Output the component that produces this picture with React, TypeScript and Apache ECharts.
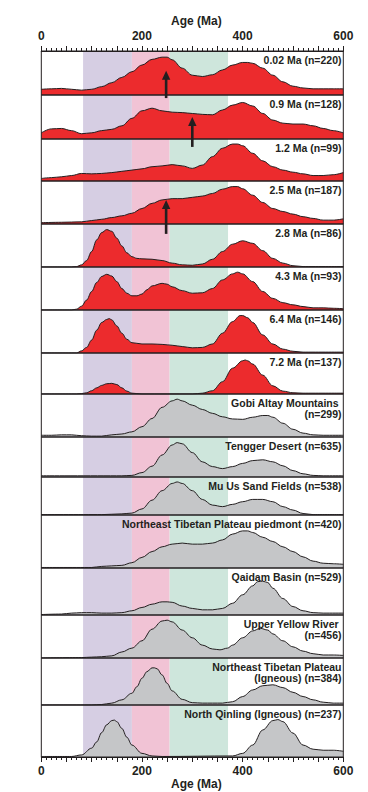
import React, { useEffect, useRef } from "react";
import * as echarts from "echarts";

// ---- data (age in Ma, relative probability in % of panel height) ----
const panelLabels = [
  "0.02 Ma (n=220)",
  "0.9 Ma (n=128)",
  "1.2 Ma (n=99)",
  "2.5 Ma (n=187)",
  "2.8 Ma (n=86)",
  "4.3 Ma (n=93)",
  "6.4 Ma (n=146)",
  "7.2 Ma (n=137)",
  "Gobi Altay Mountains \n(n=299)",
  "Tengger Desert (n=635)",
  "Mu Us Sand Fields (n=538)",
  "Northeast Tibetan Plateau piedmont (n=420)",
  "Qaidam Basin (n=529)",
  "Upper Yellow River \n(n=456)",
  "Northeast Tibetan Plateau\n(Igneous) (n=384)",
  "North Qinling (Igneous) (n=237)",
];
const panelKinds = ["red", "red", "red", "red", "red", "red", "red", "red", "gray", "gray", "gray", "gray", "gray", "gray", "gray", "gray"];

const d002 = [[0,13],[20,14],[40,15],[60,13],[80,11],[100,13],[120,19],[140,28],[160,40],[180,53],[200,68],[220,81],[240,86],[250,86],[260,80],[280,61],[300,45],[320,42],[340,46],[360,57],[380,68],[400,74],[410,74],[420,72],[440,61],[460,45],[480,30],[500,20],[520,16],[540,14],[560,14],[580,14],[600,14]];
const d09 = [[0,14],[20,23],[40,24],[60,19],[80,12],[100,14],[120,19],[140,22],[160,30],[180,47],[200,64],[220,70],[240,64],[260,61],[280,60],[300,58],[320,56],[340,55],[360,66],[380,77],[400,83],[420,75],[440,58],[460,43],[480,36],[500,34],[520,34],[540,30],[560,24],[580,19],[600,14]];
const d12 = [[0,6],[20,8],[40,10],[60,13],[80,18],[100,17],[120,18],[140,20],[160,23],[180,26],[200,29],[220,34],[240,36],[260,39],[280,36],[300,30],[320,38],[340,58],[360,78],[380,88],[390,88],[400,84],[420,66],[440,48],[460,34],[480,26],[500,21],[520,17],[540,13],[560,13],[580,15],[600,20]];
const d25 = [[0,3],[40,4],[80,5],[100,8],[120,11],[140,15],[160,19],[180,25],[200,36],[220,48],[240,56],[260,59],[280,59],[300,62],[320,65],[340,71],[360,81],[380,87],[390,87],[400,82],[420,67],[440,50],[460,36],[480,29],[500,23],[520,17],[540,13],[560,9],[580,9],[600,12]];
const d28 = [[0,0],[60,0],[70,1],[80,5],[90,15],[100,36],[110,63],[120,80],[130,87],[140,83],[150,67],[160,49],[170,33],[180,24],[190,20],[200,19],[220,18],[240,15],[260,9],[280,5],[300,4],[320,7],[340,18],[360,36],[380,53],[400,61],[420,55],[440,38],[460,20],[480,9],[500,3],[520,1],[600,1]];
const d43 = [[0,0],[60,0],[70,2],[80,9],[90,23],[100,43],[110,64],[120,78],[130,83],[140,79],[150,66],[160,50],[170,39],[180,33],[190,33],[200,37],[210,47],[220,56],[240,62],[250,60],[260,54],[280,45],[300,39],[320,40],[340,50],[360,70],[380,84],[390,88],[400,84],[420,66],[440,43],[460,27],[480,17],[500,12],[520,8],[540,5],[560,5],[580,4],[600,3]];
const d64 = [[0,0],[70,0],[80,5],[90,13],[100,30],[110,53],[120,71],[130,78],[135,80],[140,77],[150,63],[160,46],[170,32],[180,24],[200,21],[220,21],[240,20],[260,18],[280,15],[300,12],[320,13],[340,21],[360,46],[380,73],[395,87],[400,87],[410,82],[420,71],[440,42],[460,21],[480,9],[500,4],[520,2],[600,2]];
const d72 = [[0,0],[70,0],[80,1],[90,3],[100,8],[110,15],[120,21],[130,25],[140,26],[150,23],[160,15],[170,7],[180,2],[200,0],[300,0],[320,2],[340,8],[360,30],[380,63],[400,81],[405,83],[410,81],[420,73],[440,46],[460,20],[480,7],[500,3],[520,2],[600,2]];
const dGobi = [[0,4],[20,4],[40,5],[60,5],[80,3],[100,2],[120,2],[140,5],[160,7],[180,12],[200,24],[220,43],[240,69],[260,84],[270,88],[280,84],[300,74],[320,64],[340,55],[360,47],[380,42],[400,41],[420,46],[440,50],[450,50],[460,46],[480,32],[500,18],[520,9],[540,5],[560,4],[600,4]];
const dTengger = [[0,3],[160,3],[180,4],[200,11],[220,27],[240,55],[260,80],[270,86],[280,83],[300,61],[320,38],[340,26],[360,21],[380,26],[400,34],[420,41],[440,43],[460,38],[480,28],[500,16],[520,8],[540,4],[560,3],[600,3]];
const dMuUs = [[0,1],[120,1],[160,3],[180,5],[200,16],[220,39],[240,64],[260,83],[270,87],[280,83],[300,64],[320,41],[340,26],[360,22],[380,28],[400,35],[420,41],[440,41],[460,35],[480,22],[500,13],[520,4],[540,1],[600,1]];
const dPiedmont = [[0,1],[100,1],[120,3],[140,4],[160,5],[180,10],[200,20],[220,31],[240,40],[260,45],[280,47],[300,45],[320,45],[340,47],[360,53],[380,64],[400,70],[410,70],[420,67],[440,58],[460,50],[480,40],[500,31],[520,21],[540,13],[560,9],[580,8],[600,7]];
const dQaidam = [[0,1],[40,2],[60,4],[80,5],[100,5],[120,4],[140,4],[160,5],[180,9],[200,16],[220,23],[240,28],[250,28],[260,27],[280,19],[300,14],[320,11],[340,11],[360,14],[380,25],[400,43],[420,62],[430,71],[440,72],[450,69],[460,57],[480,35],[500,18],[520,9],[540,5],[560,4],[600,4]];
const dYellow = [[0,0],[80,1],[100,2],[120,3],[140,5],[160,14],[180,23],[200,40],[220,67],[240,86],[250,88],[260,84],[280,65],[300,47],[320,30],[340,21],[355,19],[370,23],[380,30],[400,47],[420,63],[435,69],[450,65],[460,56],[480,40],[500,26],[520,16],[540,10],[560,7],[580,7],[600,6]];
const dNETIgneous = [[0,0],[100,0],[120,1],[140,4],[160,11],[180,25],[190,39],[200,57],[210,71],[220,79],[225,79],[230,77],[240,64],[250,46],[260,30],[280,12],[300,5],[320,4],[340,4],[360,4],[380,7],[400,18],[420,32],[440,41],[460,43],[480,37],[500,27],[520,18],[540,11],[560,6],[580,4],[600,4]];
const dQinling = [[0,1],[60,1],[80,4],[100,17],[110,29],[120,47],[130,62],[140,70],[145,71],[150,68],[160,55],[170,38],[180,23],[200,7],[220,2],[240,1],[380,2],[400,7],[420,23],[440,52],[460,70],[470,72],[480,68],[500,46],[520,23],[540,15],[560,13],[580,13],[600,11]];

const panelData = [d002, d09, d12, d25, d28, d43, d64, d72, dGobi, dTengger, dMuUs, dPiedmont, dQaidam, dYellow, dNETIgneous, dQinling];

// shaded age intervals (Ma)
const bandStarts = [83, 180, 255];
const bandEnds = [180, 255, 371];
const bandColors = ["#d6cee3", "#f1c3d5", "#cee6dc"];

// arrows: panel index, age, top and bottom in panel units
const arrowPanels = [0, 1, 3];
const arrowAges = [248, 300, 248];
const arrowTops = [55, 50, 56];
const arrowBottoms = [-7, -18, -23];

const axisTicks = [0, 200, 400, 600];

// ---- layout ----
const panelEdges = [51, 95, 139, 181, 224, 267, 310, 353, 394, 437, 477, 515, 568, 615, 658, 705, 757];
const LEFT = 41.3;
const RIGHT_X = 343.3;
const W = 368;
const H = 792;
const FONT = "'Liberation Sans', Arial, Helvetica, sans-serif";
const INK = "#231f20";

export default function App() {
  const ref = useRef<HTMLDivElement>(null);
  useEffect(() => {
    if (!ref.current) return;
    const chart = echarts.init(ref.current, undefined, { renderer: "svg" });
    const n = panelData.length;
    const grids: any[] = [];
    const xAxes: any[] = [];
    const yAxes: any[] = [];
    const series: any[] = [];
    for (let i = 0; i < n; i++) {
      const top = panelEdges[i];
      const bottom = panelEdges[i + 1];
      grids.push({
        left: LEFT,
        right: W - RIGHT_X,
        top: top,
        height: bottom - top,
        show: true,
        backgroundColor: "rgba(0,0,0,0)",
        borderColor: INK,
        borderWidth: 1,
        z: 10,
      });
      const isTop = i === 0;
      const isBottom = i === n - 1;
      const showAxis = isTop || isBottom;
      xAxes.push({
        gridIndex: i,
        type: "value",
        min: 0,
        max: 600,
        interval: 50,
        position: isTop ? "top" : "bottom",
        show: showAxis,
        z: 11,
        name: showAxis ? "Age (Ma)" : "",
        nameLocation: "middle",
        nameGap: isTop ? 24 : 20,
        nameTextStyle: {
          fontSize: 12,
          fontWeight: "bold",
          fontFamily: FONT,
          color: INK,
          padding: [0, 0, 0, 8],
        },
        axisLine: { show: true, onZero: false, lineStyle: { color: INK, width: 1 } },
        axisTick: { show: true, inside: false, length: 5, lineStyle: { color: INK, width: 1 } },
        minorTick: { show: true, splitNumber: 5, length: 3, lineStyle: { color: INK, width: 1 } },
        splitLine: { show: false },
        minorSplitLine: { show: false },
        axisLabel: {
          show: true,
          margin: isTop ? 9 : 8,
          fontSize: 12,
          fontWeight: "bold",
          fontFamily: FONT,
          color: INK,
          formatter: (v: number) => (axisTicks.indexOf(v) >= 0 ? String(v) : ""),
        },
      });
      yAxes.push({ gridIndex: i, type: "value", min: 0, max: 100, show: false });
      // background bands
      series.push({
        type: "line",
        xAxisIndex: i,
        yAxisIndex: i,
        data: [],
        z: 1,
        silent: true,
        markArea: {
          silent: true,
          data: bandStarts.map((s, k) => [
            { xAxis: s, itemStyle: { color: bandColors[k], opacity: 1 } },
            { xAxis: bandEnds[k] },
          ]),
        },
      });
      series.push({
        type: "line",
        xAxisIndex: i,
        yAxisIndex: i,
        data: panelData[i],
        z: 3,
        smooth: 0.35,
        smoothMonotone: "x",
        symbol: "none",
        lineStyle: { color: INK, width: 1 },
        areaStyle: {
          color: panelKinds[i] === "red" ? "#ec2b2d" : "#c5c6c8",
          opacity: 1,
        },
      });
    }
    chart.setOption({
      animation: false,
      backgroundColor: "#fff",
      grid: grids,
      xAxis: xAxes,
      yAxis: yAxes,
      series,
    });

    const graphics: any[] = [];
    for (let i = 0; i < n; i++) {
      graphics.push({
        type: "text",
        x: RIGHT_X - 1.8,
        y: panelEdges[i] + 2.6,
        z: 20,
        style: {
          text: panelLabels[i],
          align: "right",
          verticalAlign: "top",
          fontSize: 10.5,
          lineHeight: 11.8,
          fontWeight: "bold",
          fontFamily: FONT,
          fill: INK,
          whiteSpace: "pre",
        },
      });
    }
    for (let k = 0; k < arrowPanels.length; k++) {
      const p = arrowPanels[k];
      const t = chart.convertToPixel({ xAxisIndex: p, yAxisIndex: p } as any, [arrowAges[k], arrowTops[k]]) as number[];
      const b = chart.convertToPixel({ xAxisIndex: p, yAxisIndex: p } as any, [arrowAges[k], arrowBottoms[k]]) as number[];
      const headH = 9;
      const headW = 4.2;
      graphics.push({
        type: "line",
        z: 25,
        shape: { x1: b[0], y1: b[1], x2: t[0], y2: t[1] + headH - 1 },
        style: { stroke: INK, lineWidth: 2.6 },
      });
      graphics.push({
        type: "polygon",
        z: 25,
        shape: {
          points: [
            [t[0], t[1]],
            [t[0] - headW, t[1] + headH],
            [t[0] + headW, t[1] + headH],
          ],
        },
        style: { fill: INK },
      });
    }
    chart.setOption({ graphic: graphics });
    return () => chart.dispose();
  }, []);
  return (
    <div
      ref={ref}
      style={{ position: "fixed", left: 0, top: 0, width: W, height: H }}
    />
  );
}
